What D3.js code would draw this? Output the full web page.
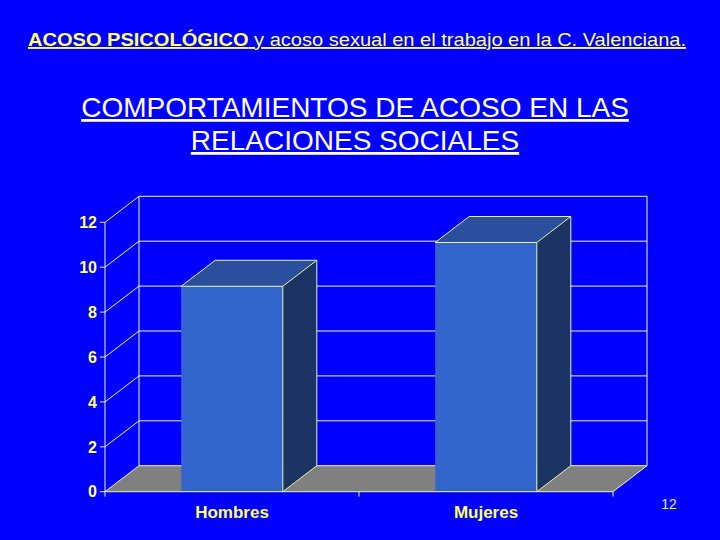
<!DOCTYPE html>
<html><head><meta charset="utf-8">
<script src="https://cdn.jsdelivr.net/npm/d3@7"></script>
<style>html,body{margin:0;padding:0;background:#0000ff;}svg{display:block;}</style>
</head><body>
<svg id="c" width="720" height="540"></svg>
<script>
const categories = ["Hombres", "Mujeres"];
const values = [9.15, 11.1];
const yTicks = [0, 2, 4, 6, 8, 10, 12];
const headerBold = "ACOSO PSICOLÓGICO";
const headerRest = " y acoso sexual en el trabajo en la C. Valenciana.";
const titleLines = ["COMPORTAMIENTOS DE ACOSO EN LAS", "RELACIONES SOCIALES"];
const pageNumber = "12";

const svg = d3.select("#c");
const F = "'Liberation Sans', Arial, sans-serif";
const dx = 34, dy = -26;
const x0 = 105, x1 = 613;
const y = d3.scaleLinear().domain([0, 12]).range([491.7, 222.3]);
const x = d3.scalePoint().domain(categories).range([x0, x1]).padding(0.5);
const step = x.step();
const bw = step * 0.4;
const lineC = "#f4f4c8";
const edgeC = "#e8f4a0";

svg.append("rect").attr("width", 720).attr("height", 540).attr("fill", "#0000ff");

// header
const h = svg.append("text").attr("x", 28).attr("y", 46).attr("font-family", F)
  .attr("font-size", 19).attr("fill", "#ffff66").attr("text-decoration", "underline")
  .attr("textLength", 658).attr("lengthAdjust", "spacingAndGlyphs");
h.append("tspan").attr("font-weight", "bold").text(headerBold);
h.append("tspan").text(headerRest);

// title
titleLines.forEach((t, i) => {
  svg.append("text").attr("x", 355).attr("y", 117 + i * 33).attr("text-anchor", "middle")
    .attr("font-family", F).attr("font-size", 28).attr("fill", "#ffffff")
    .attr("text-decoration", "underline").text(t);
});

// floor
const y0 = y(0);
svg.append("polygon")
  .attr("points", [[x0, y0], [x1, y0], [x1 + dx, y0 + dy], [x0 + dx, y0 + dy]].map(p => p.join(",")).join(" "))
  .attr("fill", "#808080");

// back wall gridlines + side wall diagonals
const g = svg.append("g").attr("stroke", lineC).attr("stroke-width", 1).attr("fill", "none");
yTicks.forEach(t => {
  g.append("line").attr("x1", x0).attr("y1", y(t)).attr("x2", x0 + dx).attr("y2", y(t) + dy);
  g.append("line").attr("x1", x0 + dx).attr("y1", y(t) + dy).attr("x2", x1 + dx).attr("y2", y(t) + dy);
});
g.append("line").attr("x1", x0 + dx).attr("y1", y(0) + dy).attr("x2", x0 + dx).attr("y2", y(12) + dy);
g.append("line").attr("x1", x1 + dx).attr("y1", y(0) + dy).attr("x2", x1 + dx).attr("y2", y(12) + dy);
g.append("line").attr("x1", x1).attr("y1", y0).attr("x2", x1 + dx).attr("y2", y0 + dy);

// bars
const bars = svg.append("g");
categories.forEach((c, i) => {
  const cx = x(c), l = cx - bw / 2, r = cx + bw / 2, top = y(values[i]);
  bars.append("polygon").attr("points", [[r, y0], [r + dx, y0 + dy], [r + dx, top + dy], [r, top]].map(p => p.join(",")).join(" "))
    .attr("fill", "#1c3464");
  bars.append("polygon").attr("points", [[l, top], [r, top], [r + dx, top + dy], [l + dx, top + dy]].map(p => p.join(",")).join(" "))
    .attr("fill", "#2a4f9c");
  bars.append("rect").attr("x", l).attr("y", top).attr("width", bw).attr("height", y0 - top).attr("fill", "#3366cc");
  const e = bars.append("g").attr("stroke", edgeC).attr("stroke-width", 1).attr("fill", "none");
  e.append("polyline").attr("points", [[l, top], [l + dx, top + dy], [r + dx, top + dy], [r + dx, y0 + dy]].map(p => p.join(",")).join(" "));
  e.append("polyline").attr("points", [[l, top], [r, top], [r + dx, top + dy]].map(p => p.join(",")).join(" "));
  e.append("line").attr("x1", r).attr("y1", top).attr("x2", r).attr("y2", y0);
  e.append("line").attr("x1", r).attr("y1", y0).attr("x2", r + dx).attr("y2", y0 + dy);
});

// front axis lines
const ax = svg.append("g").attr("stroke", edgeC).attr("stroke-width", 1);
ax.append("line").attr("x1", x0).attr("y1", y(12)).attr("x2", x0).attr("y2", y0);
ax.append("line").attr("x1", x0).attr("y1", y0).attr("x2", x1).attr("y2", y0);
yTicks.forEach(t => ax.append("line").attr("x1", x0 - 5).attr("y1", y(t)).attr("x2", x0).attr("y2", y(t)));
[x0, x0 + step, x1].forEach(px => ax.append("line").attr("x1", px).attr("y1", y0).attr("x2", px).attr("y2", y0 + 5));

// y labels
svg.append("g").selectAll("text").data(yTicks).join("text")
  .attr("x", 97).attr("y", d => y(d)).attr("dy", "0.36em").attr("text-anchor", "end")
  .attr("font-family", F).attr("font-weight", "bold").attr("font-size", 16).attr("fill", "#ffff66")
  .text(d => d);

// x labels
svg.append("g").selectAll("text").data(categories).join("text")
  .attr("x", d => x(d)).attr("y", 518).attr("text-anchor", "middle")
  .attr("font-family", F).attr("font-weight", "bold").attr("font-size", 17).attr("fill", "#ffff66")
  .text(d => d);

// page number
svg.append("text").attr("x", 669).attr("y", 509).attr("text-anchor", "middle")
  .attr("font-family", F).attr("font-size", 14).attr("fill", "#e8e8ff").text(pageNumber);
</script>
</body></html>
